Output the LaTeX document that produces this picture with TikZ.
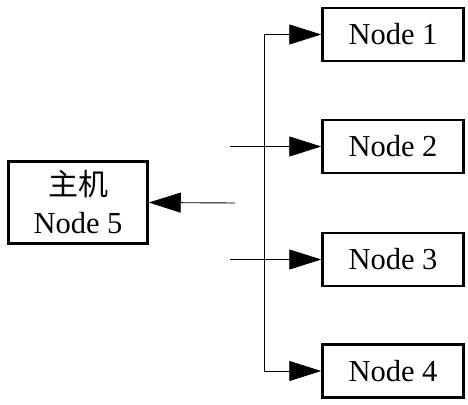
\documentclass[tikz,border=0pt]{standalone}
\usepackage{fontspec}
\setmainfont{Liberation Serif}
\newfontfamily\cjk{Noto Sans CJK SC}
\usetikzlibrary{arrows.meta}
\begin{document}
\begin{tikzpicture}[x=1pt,y=-1pt,
  box/.style={draw,line width=2.5pt,minimum width=141pt,minimum height=53pt,inner sep=0pt,font=\fontsize{30.5}{38}\selectfont},
  conn/.style={line width=0.9pt},
  arr/.style={conn,-{Triangle[length=32pt,width=20pt]}}]
\useasboundingbox (0,0) rectangle (468,404);
\node[box] (n1) at (393,34.5) {Node 1};
\node[box] (n2) at (393,146.5) {Node 2};
\node[box] (n3) at (393,259.5) {Node 3};
\node[box] (n4) at (393,371) {Node 4};
\node[box,minimum width=139pt,minimum height=82pt,align=center] (n5) at (78,202.5) {{\cjk\fontsize{30}{38}\selectfont 主机}\\Node 5};
\coordinate (bus) at (264,203);
\coordinate (s2) at (230,146.5);
\coordinate (s3) at (230,259.5);
\coordinate (s5) at (235,203);
\draw[arr] (bus) |- (n1.west);
\draw[arr] (bus) |- (n4.west);
\draw[arr] (s2) -- (n2.west);
\draw[arr] (s3) -- (n3.west);
\draw[arr] (s5) -- (n5.east);
\end{tikzpicture}
\end{document}
